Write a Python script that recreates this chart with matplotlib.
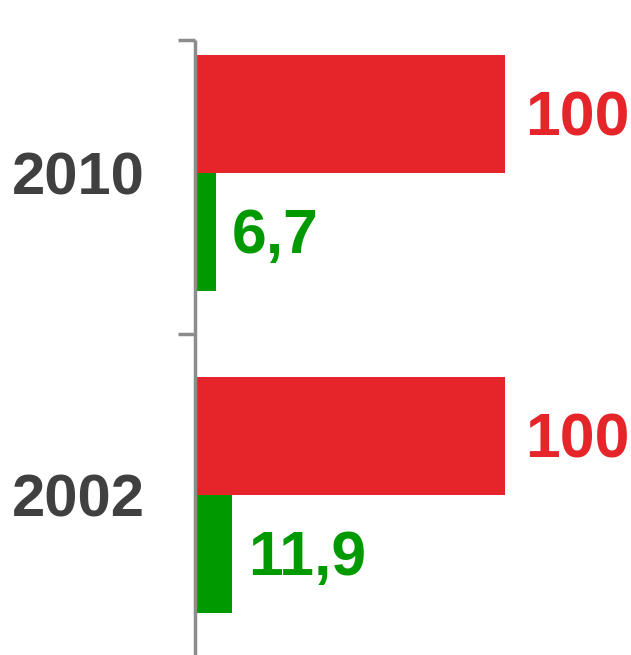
import matplotlib.pyplot as plt

# data
years = ['2010', '2002']
red_values = [100, 100]
green_values = [6.7, 11.9]
green_labels = ['6,7', '11,9']

red = '#e5252a'
green = '#009a00'
gray_text = '#404040'
axis_gray = '#8c8c8c'

plt.rcParams['font.family'] = ['Liberation Sans', 'DejaVu Sans']

fig = plt.figure(figsize=(6.31, 6.55), dpi=100)
ax = fig.add_axes([195 / 631, 0, 436 / 631, 1])

h = 0.366
base = 0.067  # baseline offset below the centre
pos = list(range(len(years)))
ax.barh([p - h / 2 for p in pos], red_values, height=h, color=red, linewidth=0)
ax.barh([p + h / 2 for p in pos], green_values, height=h, color=green, linewidth=0)

for p, v in zip(pos, red_values):
    ax.text(v + 6.5, p - h / 2 + base, str(v), color=red, fontsize=45,
            fontweight='bold', va='baseline', ha='left')
for p, v, lab in zip(pos, green_values, green_labels):
    ax.text(v + 5.3, p + h / 2 + base, lab, color=green, fontsize=45,
            fontweight='bold', va='baseline', ha='left')
for p, y in zip(pos, years):
    ax.text(-16.1, p + base, y, color=gray_text, fontsize=43, fontweight='bold',
            va='baseline', ha='right')

# axis line and ticks
ax.vlines(0, -0.413, 1.6, color=axis_gray, linewidth=2.5, clip_on=False)
ax.hlines([-0.413, 0.5], -5.5, 0, color=axis_gray, linewidth=2.5, clip_on=False)

ax.set_xlim(0, 436 / 3.1)
ax.set_ylim(1.497, -0.537)
ax.axis('off')

fig.savefig('out.png', dpi=100)
